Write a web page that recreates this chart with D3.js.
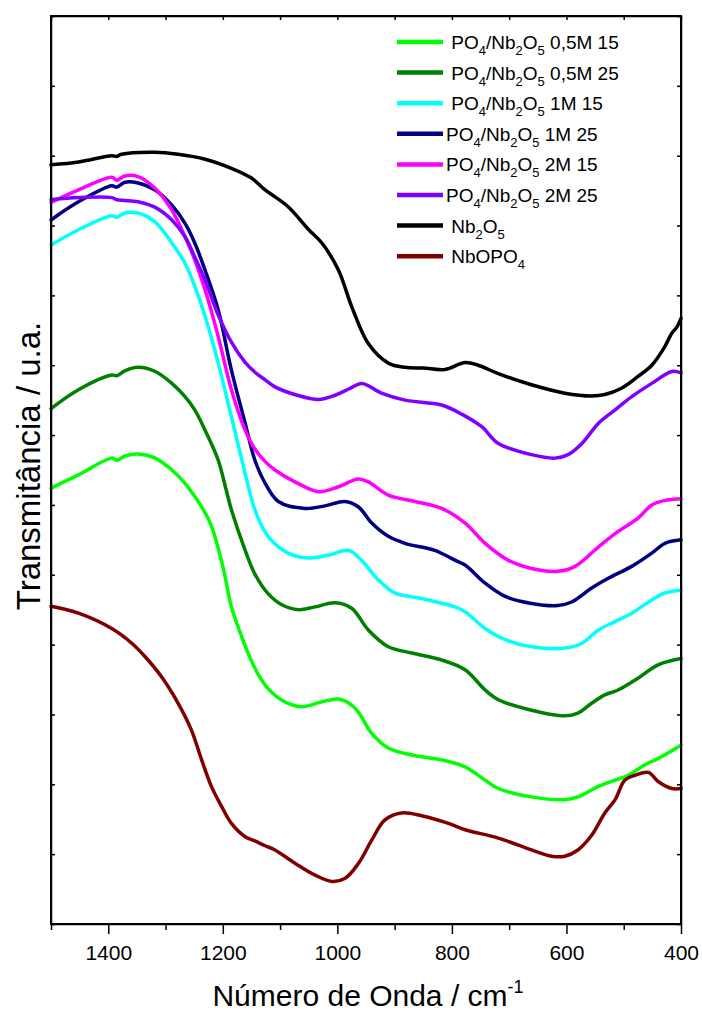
<!DOCTYPE html>
<html>
<head>
<meta charset="utf-8">
<script src="https://cdn.jsdelivr.net/npm/d3@7"></script>
<style>
  body { margin: 0; background: #fff; }
  svg { display: block; font-family: "Liberation Sans", Arial, sans-serif; }
  .frame { fill: none; stroke: #000; stroke-width: 2; }
  .axis path, .axis line { stroke: #000; stroke-width: 1.5; }
  .axis text { font-size: 21px; fill: #000; }
  .curve { fill: none; stroke-width: 3.5; stroke-linejoin: round; stroke-linecap: round; }
  .leg text { font-size: 19px; white-space: pre; }
</style>
</head>
<body>
<script>
// chart size
var width = 702,
    height = 1014;
var margin = {top: 16, right: 21, bottom: 90, left: 51};

// series: [wavenumber, transmittance (a.u., offset)]
var p05m15 = [[1500,6.24],[1452,6.43],[1394,6.67],[1385,6.64],[1371,6.70],[1348,6.73],[1318,6.67],[1289,6.50],[1266,6.31],[1249,6.12],[1234,5.93],[1220,5.70],[1200,5.12],[1185,4.54],[1170,4.18],[1155,3.86],[1140,3.60],[1121,3.37],[1100,3.22],[1080,3.14],[1062,3.11],[1027,3.18],[998,3.22],[969,3.09],[940,2.73],[911,2.52],[870,2.42],[818,2.35],[777,2.25],[742,2.06],[719,1.94],[661,1.82],[603,1.78],[580,1.82],[544,1.97],[515,2.06],[492,2.13],[463,2.28],[440,2.37],[400,2.56]];
var p05m25 = [[1500,7.38],[1452,7.65],[1394,7.86],[1385,7.85],[1371,7.92],[1348,7.97],[1318,7.91],[1289,7.74],[1266,7.55],[1249,7.36],[1231,7.07],[1208,6.64],[1194,6.21],[1185,5.93],[1161,5.35],[1144,5.01],[1121,4.73],[1097,4.57],[1068,4.50],[1039,4.54],[1004,4.60],[975,4.52],[946,4.21],[911,3.97],[870,3.88],[818,3.78],[777,3.64],[742,3.35],[719,3.21],[661,3.06],[603,2.98],[580,3.02],[556,3.16],[533,3.28],[510,3.35],[475,3.52],[440,3.71],[400,3.80]];
var p1m15 = [[1500,9.72],[1452,9.94],[1394,10.14],[1385,10.12],[1371,10.18],[1348,10.18],[1318,10.05],[1289,9.75],[1266,9.46],[1249,9.13],[1231,8.70],[1208,8.03],[1185,7.26],[1161,6.45],[1144,5.93],[1121,5.55],[1086,5.31],[1051,5.24],[1016,5.28],[981,5.35],[958,5.21],[929,4.93],[900,4.74],[853,4.66],[795,4.54],[777,4.47],[742,4.23],[707,4.07],[661,3.97],[603,3.95],[573,4.02],[544,4.21],[515,4.33],[486,4.45],[451,4.64],[428,4.74],[400,4.78]];
var p1m25 = [[1500,10.08],[1452,10.34],[1394,10.57],[1385,10.55],[1371,10.62],[1348,10.61],[1318,10.51],[1289,10.29],[1266,10.03],[1249,9.75],[1231,9.36],[1208,8.79],[1185,7.93],[1161,7.17],[1144,6.64],[1126,6.31],[1103,6.05],[1056,5.95],[1020,5.99],[987,6.05],[963,5.97],[940,5.74],[911,5.55],[882,5.45],[830,5.35],[795,5.21],[777,5.14],[742,4.88],[707,4.69],[661,4.59],[615,4.56],[591,4.61],[556,4.81],[527,4.95],[486,5.12],[451,5.31],[428,5.45],[400,5.50]];
var p2m15 = [[1500,10.33],[1452,10.51],[1394,10.69],[1385,10.65],[1371,10.71],[1348,10.70],[1318,10.53],[1289,10.22],[1266,9.84],[1249,9.51],[1231,9.08],[1208,8.41],[1185,7.65],[1161,7.07],[1144,6.80],[1126,6.62],[1109,6.50],[1074,6.33],[1033,6.19],[998,6.26],[964,6.37],[946,6.33],[911,6.14],[865,6.05],[818,5.95],[777,5.74],[742,5.45],[702,5.21],[661,5.09],[615,5.05],[585,5.12],[544,5.40],[515,5.59],[475,5.81],[451,6.00],[425,6.07],[400,6.09]];
var p2m25 = [[1500,10.37],[1452,10.40],[1394,10.40],[1385,10.37],[1371,10.36],[1348,10.34],[1318,10.26],[1289,10.08],[1266,9.84],[1249,9.55],[1231,9.22],[1208,8.72],[1185,8.33],[1161,8.04],[1144,7.90],[1126,7.79],[1109,7.69],[1070,7.57],[1033,7.51],[1004,7.57],[980,7.66],[957,7.74],[923,7.60],[882,7.50],[818,7.43],[783,7.30],[748,7.12],[719,6.88],[661,6.72],[620,6.67],[597,6.72],[573,6.88],[544,7.17],[515,7.36],[486,7.55],[451,7.74],[416,7.91],[400,7.89]];
var nb2o5 = [[1500,10.87],[1452,10.91],[1394,11.00],[1385,10.99],[1377,11.02],[1318,11.05],[1278,11.02],[1231,10.95],[1185,10.82],[1150,10.68],[1126,10.51],[1086,10.27],[1050,9.94],[1027,9.75],[998,9.36],[975,8.84],[946,8.31],[911,8.03],[882,7.97],[850,7.96],[812,7.94],[777,8.04],[754,8.00],[719,7.88],[661,7.72],[603,7.60],[556,7.56],[533,7.58],[504,7.67],[475,7.84],[451,8.00],[428,8.27],[416,8.46],[407,8.55],[400,8.67]];
var nbopo4 = [[1500,4.55],[1452,4.45],[1394,4.23],[1359,4.02],[1336,3.83],[1307,3.54],[1278,3.16],[1255,2.78],[1237,2.35],[1220,1.97],[1202,1.68],[1185,1.44],[1161,1.25],[1144,1.19],[1126,1.12],[1109,1.06],[1074,0.87],[1039,0.70],[1010,0.61],[987,0.65],[963,0.87],[940,1.20],[917,1.49],[888,1.59],[853,1.55],[806,1.44],[777,1.35],[719,1.23],[661,1.06],[626,0.97],[603,0.97],[580,1.06],[556,1.27],[533,1.59],[515,1.78],[498,2.06],[480,2.13],[457,2.17],[440,2.04],[416,1.94],[400,1.94]];

// legend order, labels and colours
var series = [p05m15, p05m25, p1m15, p1m25, p2m15, p2m25, nb2o5, nbopo4];
var colors = ["#00ff00", "#008000", "#00ffff", "#000080", "#ff00ff", "#8000ff", "#000000", "#800000"];
// label parts: [text, "sub" or ""]
var labels = [
    [[" PO",""],["4","sub"],["/Nb",""],["2","sub"],["O",""],["5","sub"],[" 0,5M 15",""]],
    [[" PO",""],["4","sub"],["/Nb",""],["2","sub"],["O",""],["5","sub"],[" 0,5M 25",""]],
    [[" PO",""],["4","sub"],["/Nb",""],["2","sub"],["O",""],["5","sub"],[" 1M 15",""]],
    [["PO",""],["4","sub"],["/Nb",""],["2","sub"],["O",""],["5","sub"],[" 1M 25",""]],
    [["PO",""],["4","sub"],["/Nb",""],["2","sub"],["O",""],["5","sub"],[" 2M 15",""]],
    [["PO",""],["4","sub"],["/Nb",""],["2","sub"],["O",""],["5","sub"],[" 2M 25",""]],
    [[" Nb",""],["2","sub"],["O",""],["5","sub"]],
    [[" NbOPO",""],["4","sub"]]
];
var xTicks = [1500, 1400, 1300, 1200, 1100, 1000, 900, 800, 700, 600, 500, 400];
var xLabels = [1400, 1200, 1000, 800, 600, 400];
var yTicks = d3.range(0, 14);

var w = width - margin.left - margin.right,
    h = height - margin.top - margin.bottom;

var x = d3.scaleLinear().domain([1500, 400]).range([0, w]);
var y = d3.scaleLinear().domain([0, 13]).range([h, 0]);

var svg = d3.select("body")
    .append("svg")
    .attr("width", width)
    .attr("height", height);

var g = svg.append("g")
    .attr("transform", "translate(" + margin.left + "," + margin.top + ")");

// curves
var line = d3.line()
    .x(function(d) { return x(d[0]); })
    .y(function(d) { return y(d[1]); })
    .curve(d3.curveCatmullRom.alpha(0.5));

g.selectAll(".curve")
    .data(series)
    .enter()
    .append("path")
    .attr("class", "curve")
    .attr("stroke", function(d, i) { return colors[i]; })
    .attr("d", line);

// axes
var bottom = g.append("g")
    .attr("class", "axis")
    .attr("transform", "translate(0," + h + ")")
    .call(d3.axisBottom(x).tickValues(xTicks).tickSize(6).tickSizeOuter(0)
        .tickFormat(function(d) { return xLabels.indexOf(d) >= 0 ? d : ""; }).tickPadding(15));
bottom.selectAll(".tick line")
    .attr("y2", function(d) { return xLabels.indexOf(d) >= 0 ? 10 : 6; });

g.append("g")
    .attr("class", "axis")
    .call(d3.axisTop(x).tickValues(xTicks).tickSize(-4).tickSizeOuter(0).tickFormat(""));

g.append("g")
    .attr("class", "axis")
    .call(d3.axisLeft(y).tickValues(yTicks).tickSize(-4).tickSizeOuter(0).tickFormat(""));

g.append("g")
    .attr("class", "axis")
    .attr("transform", "translate(" + w + ",0)")
    .call(d3.axisRight(y).tickValues(yTicks).tickSize(-4).tickSizeOuter(0).tickFormat(""));

g.append("rect")
    .attr("class", "frame")
    .attr("width", w)
    .attr("height", h);

// axis titles
var xt = svg.append("text")
    .attr("x", margin.left + w / 2 + 2)
    .attr("y", 1006)
    .attr("text-anchor", "middle")
    .style("font-size", "30px");
xt.append("tspan").text("Número de Onda / cm");
xt.append("tspan").attr("dy", -13).style("font-size", "18px").text("-1");

svg.append("text")
    .attr("transform", "translate(40," + (margin.top + h / 2 - 4) + ") rotate(-90)")
    .attr("text-anchor", "middle")
    .style("font-size", "33px")
    .text("Transmitância / u.a.");

// legend
var leg = svg.append("g").attr("class", "leg");
series.forEach(function(s, i) {
    var yy = 42 + i * 30.6;
    leg.append("line")
        .attr("x1", 397).attr("x2", 443)
        .attr("y1", yy).attr("y2", yy)
        .attr("stroke", colors[i])
        .attr("stroke-width", 4.5);
    var t = leg.append("text")
        .attr("x", 446)
        .attr("y", yy + 7);
    labels[i].forEach(function(p) {
        var ts = t.append("tspan").text(p[0]);
        if (p[1] === "sub") {
            ts.style("font-size", "13px").attr("dy", 6);
        } else if (t.selectAll("tspan").size() > 1) {
            ts.attr("dy", -6);
        }
    });
});
</script>
</body>
</html>
